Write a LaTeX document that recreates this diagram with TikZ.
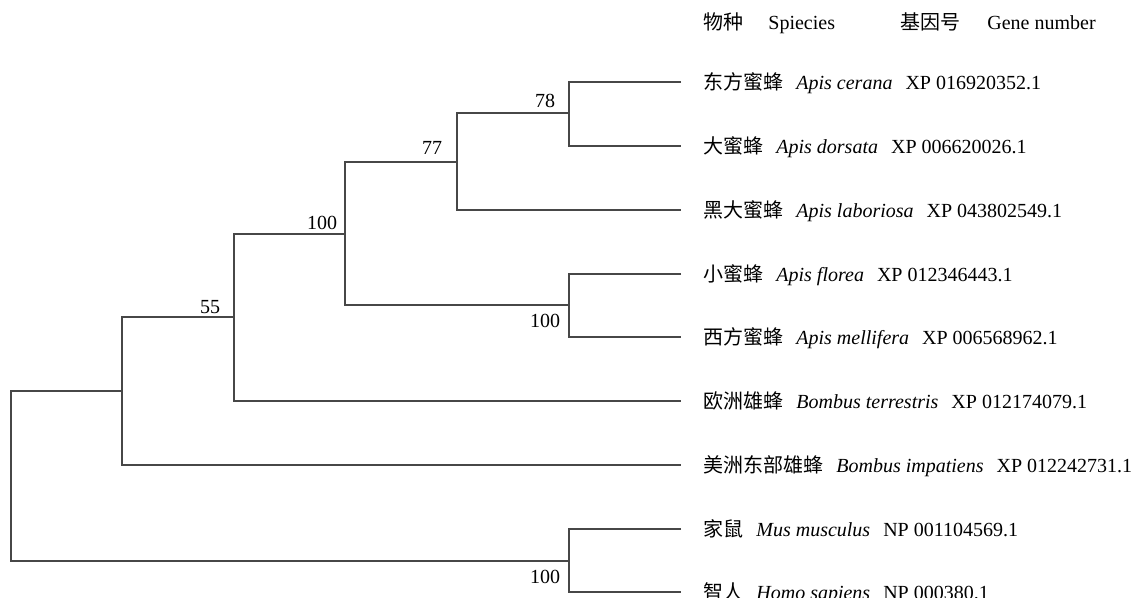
\documentclass[tikz,border=0pt]{standalone}
\usepackage{fontspec}
\setmainfont{Liberation Serif}
\newfontfamily\cjk{Noto Sans CJK SC}
\usetikzlibrary{positioning}

\tikzstyle{branch}=[draw=black!72,line width=0.55pt]
\tikzstyle{taxon}=[anchor=base west,inner sep=0pt,font=\fontsize{10}{12}\selectfont]
\tikzstyle{boot}=[inner sep=0pt,font=\fontsize{10}{12}\selectfont]
\newcommand{\sptext}[3]{{\cjk #1}\hspace{0.65em}\textit{#2}\hspace{0.65em}#3}

\begin{document}
\begin{tikzpicture}[x=0.5pt,y=-0.5pt]
  \useasboundingbox (0,0) rectangle (1145,598);

  % tips
  \coordinate (t1) at (681,82);
  \coordinate (t2) at (681,146);
  \coordinate (t3) at (681,210);
  \coordinate (t4) at (681,274);
  \coordinate (t5) at (681,337);
  \coordinate (t6) at (681,401);
  \coordinate (t7) at (681,465);
  \coordinate (t8) at (681,529);
  \coordinate (t9) at (681,592);

  % inner nodes
  \coordinate (n78) at (569,113);
  \coordinate (n77) at (457,162);
  \coordinate (n100a) at (345,234);
  \coordinate (n100b) at (569,305);
  \coordinate (n55) at (234,317);
  \coordinate (nbee) at (122,391);
  \coordinate (nmam) at (569,561);
  \coordinate (root) at (11,476);

  \draw [branch] (t1) -| (n78) |- (t2);
  \draw [branch] (n78) -| (n77) |- (t3);
  \draw [branch] (t4) -| (n100b) |- (t5);
  \draw [branch] (n77) -| (n100a) |- (n100b);
  \draw [branch] (n100a) -| (n55) |- (t6);
  \draw [branch] (n55) -| (nbee) |- (t7);
  \draw [branch] (t8) -| (nmam) |- (t9);
  \draw [branch] (nbee) -| (root) |- (nmam);

  % bootstrap values
  \node [boot] (b78) at (545,101) {78};
  \node [boot] (b77) at (432,148) {77};
  \node [boot] (b100a) at (322,223) {100};
  \node [boot] (b55) at (210,307) {55};
  \node [boot] (b100b) at (545,321) {100};
  \node [boot] (b100c) at (545,577) {100};

  % header
  \node [taxon] (hsp) at (703,30) {\cjk 物种};
  \node [taxon] (hspe) at (768,30) {Spiecies};
  \node [taxon] (hgn) at (900,30) {\cjk 基因号};
  \node [taxon] (hgne) at (987,30) {Gene number};

  % taxa
  \node [taxon] (cerana) at ([shift={(11pt,-3.8pt)}]t1) {\sptext{东方蜜蜂}{Apis cerana}{XP 016920352.1}};
  \node [taxon] (dorsata) at ([shift={(11pt,-3.8pt)}]t2) {\sptext{大蜜蜂}{Apis dorsata}{XP 006620026.1}};
  \node [taxon] (laboriosa) at ([shift={(11pt,-3.8pt)}]t3) {\sptext{黑大蜜蜂}{Apis laboriosa}{XP 043802549.1}};
  \node [taxon] (florea) at ([shift={(11pt,-3.8pt)}]t4) {\sptext{小蜜蜂}{Apis florea}{XP 012346443.1}};
  \node [taxon] (mellifera) at ([shift={(11pt,-3.8pt)}]t5) {\sptext{西方蜜蜂}{Apis mellifera}{XP 006568962.1}};
  \node [taxon] (terrestris) at ([shift={(11pt,-3.8pt)}]t6) {\sptext{欧洲雄蜂}{Bombus terrestris}{XP 012174079.1}};
  \node [taxon] (impatiens) at ([shift={(11pt,-3.8pt)}]t7) {\sptext{美洲东部雄蜂}{Bombus impatiens}{XP 012242731.1}};
  \node [taxon] (musculus) at ([shift={(11pt,-3.8pt)}]t8) {\sptext{家鼠}{Mus musculus}{NP 001104569.1}};
  \node [taxon] (sapiens) at ([shift={(11pt,-3.8pt)}]t9) {\sptext{智人}{Homo sapiens}{NP 000380.1}};
\end{tikzpicture}
\end{document}
